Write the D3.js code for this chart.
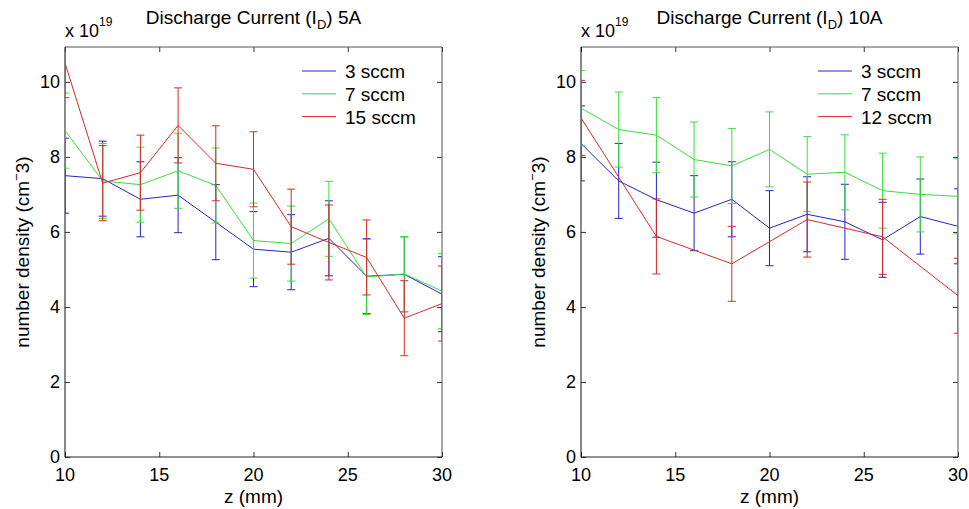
<!DOCTYPE html>
<html>
<head>
<meta charset="utf-8">
<script src="https://cdn.jsdelivr.net/npm/d3@7"></script>
<style>
  body { margin: 0; background: #fff; }
  svg { display: block; font-family: "Liberation Sans", Arial, sans-serif; }
</style>
</head>
<body>
<svg id="chart" width="969" height="509"></svg>
<script>
// z positions (mm)
const zValues = [10, 12, 14, 16, 18, 20, 22, 24, 26, 28, 30];
const zRed10 = [10, 14, 18, 22, 26, 30];
const xTicks = [10, 15, 20, 25, 30];
const yTicks = [0, 2, 4, 6, 8, 10];

// Discharge current 5A  (values x 10^19)
const blue5 = [7.5, 7.42, 6.87, 6.98, 6.26, 5.54, 5.46, 5.83, 4.82, 4.87, 4.34];
const green5 = [8.7, 7.36, 7.26, 7.63, 7.24, 5.77, 5.69, 6.35, 4.8, 4.88, 4.42];
const red5 = [10.5, 7.3, 7.58, 8.84, 7.83, 7.67, 6.14, 5.72, 5.32, 3.7, 4.09];
const errBlue5 = [1, 1, 1, 1, 1, 1, 1, 1, 1, 1, 1];
const errGreen5 = [1, 1, 1, 1, 1, 1, 1, 1, 1, 1, 1];
const errRed5 = [0.92, 1, 1, 1, 1, 1, 1, 1, 1, 1, 1];
const labels5 = ['3 sccm', '7 sccm', '15 sccm'];

// Discharge current 10A
const blue10 = [8.36, 7.36, 6.86, 6.5, 6.87, 6.1, 6.47, 6.27, 5.79, 6.41, 6.15];
const green10 = [9.3, 8.73, 8.58, 7.93, 7.76, 8.2, 7.54, 7.59, 7.1, 7.0, 6.95];
const red10 = [9.04, 5.88, 5.15, 6.33, 5.87, 4.3];
const errBlue10 = [1, 1, 1, 1, 1, 1, 1, 1, 1, 1, 1];
const errGreen10 = [1, 1, 1, 1, 1, 1, 1, 1, 1, 1, 1];
const errRed10 = [1, 1, 1, 1, 1, 1];
const labels10 = ['3 sccm', '7 sccm', '12 sccm'];

const colors = { blue: '#2424cc', green: '#38de38', red: '#d82828' };
const fontSize = 19;
const tickFont = 18;

const svg = d3.select('#chart');

function drawPanel(opts) {
  const { left, right, top, bottom, id, title, legend, series } = opts;

  const x = d3.scaleLinear().domain([10, 30]).range([left, right]);
  const y = d3.scaleLinear().domain([0, 10.93]).range([bottom, top]);

  svg.append('clipPath').attr('id', id)
    .append('rect')
    .attr('x', left).attr('y', top)
    .attr('width', right - left).attr('height', bottom - top);

  const g = svg.append('g');

  // inward ticks on all four sides
  const tickLen = 5;
  g.append('g')
    .attr('transform', `translate(0,${bottom})`)
    .call(d3.axisBottom(x).tickValues(xTicks).tickSize(-tickLen).tickFormat(''))
    .call(s => s.select('.domain').remove());
  g.append('g')
    .attr('transform', `translate(0,${top})`)
    .call(d3.axisTop(x).tickValues(xTicks).tickSize(-tickLen).tickFormat(''))
    .call(s => s.select('.domain').remove());
  g.append('g')
    .attr('transform', `translate(${left},0)`)
    .call(d3.axisLeft(y).tickValues(yTicks).tickSize(-tickLen).tickFormat(''))
    .call(s => s.select('.domain').remove());
  g.append('g')
    .attr('transform', `translate(${right},0)`)
    .call(d3.axisRight(y).tickValues(yTicks).tickSize(-tickLen).tickFormat(''))
    .call(s => s.select('.domain').remove());
  g.selectAll('.tick line').attr('stroke', '#333');

  // box
  g.append('line').attr('x1', left).attr('x2', right).attr('y1', top).attr('y2', top).attr('stroke', '#555');
  g.append('line').attr('x1', right).attr('x2', right).attr('y1', top).attr('y2', bottom).attr('stroke', '#555');
  g.append('line').attr('x1', left).attr('x2', right).attr('y1', bottom).attr('y2', bottom).attr('stroke', '#222');
  g.append('line').attr('x1', left).attr('x2', left).attr('y1', top).attr('y2', bottom).attr('stroke', '#111');

  // tick labels
  g.selectAll('.xlab')
    .data(xTicks)
    .enter()
    .append('text')
    .attr('x', d => x(d))
    .attr('y', bottom + 24)
    .attr('text-anchor', 'middle')
    .style('font-size', tickFont + 'px')
    .text(d => d);

  g.selectAll('.ylab')
    .data(yTicks)
    .enter()
    .append('text')
    .attr('x', left - 5)
    .attr('y', d => y(d) + 6)
    .attr('text-anchor', 'end')
    .style('font-size', tickFont + 'px')
    .text(d => d);

  // exponent label
  const ex = g.append('text')
    .attr('x', left)
    .attr('y', top - 10)
    .style('font-size', tickFont + 'px');
  ex.append('tspan').text('x 10');
  ex.append('tspan').attr('dy', -11).style('font-size', '12px').text('19');

  // title
  const t = g.append('text')
    .attr('x', (left + right) / 2)
    .attr('y', 24)
    .attr('text-anchor', 'middle')
    .style('font-size', '19px');
  t.append('tspan').text('Discharge Current (I');
  t.append('tspan').attr('dy', 5).style('font-size', '13px').text('D');
  t.append('tspan').attr('dy', -5).text(') ' + title);

  // axis labels
  g.append('text')
    .attr('x', (left + right) / 2)
    .attr('y', 503)
    .attr('text-anchor', 'middle')
    .style('font-size', fontSize + 'px')
    .text('z (mm)');

  const yl = g.append('text')
    .attr('transform', `translate(${left - 36},${(top + bottom) / 2}) rotate(-90)`)
    .attr('text-anchor', 'middle')
    .style('font-size', fontSize + 'px');
  yl.append('tspan').text('number density (cm');
  yl.append('tspan').attr('dy', -8).style('font-size', '13px').text('−');
  yl.append('tspan').attr('dy', 8).text('3)');

  // data
  const plot = g.append('g').attr('clip-path', `url(#${id})`);
  const cap = 4;

  series.forEach(s => {
    const c = colors[s.color];
    const pts = s.values.map((v, i) => ({ z: s.z[i], v: v, e: s.err[i] }));
    const line = d3.line().x(d => x(d.z)).y(d => y(d.v));

    plot.append('path')
      .datum(pts)
      .attr('fill', 'none')
      .attr('stroke', c)
      .attr('stroke-width', 1)
      .attr('d', line);

    const eb = plot.append('g').attr('stroke', c).attr('stroke-width', 1);
    eb.selectAll('.bar')
      .data(pts)
      .enter()
      .append('line')
      .attr('x1', d => x(d.z)).attr('x2', d => x(d.z))
      .attr('y1', d => y(d.v - d.e)).attr('y2', d => y(d.v + d.e));
    eb.selectAll('.capTop')
      .data(pts)
      .enter()
      .append('line')
      .attr('x1', d => x(d.z) - cap).attr('x2', d => x(d.z) + cap)
      .attr('y1', d => y(d.v + d.e)).attr('y2', d => y(d.v + d.e));
    eb.selectAll('.capBottom')
      .data(pts)
      .enter()
      .append('line')
      .attr('x1', d => x(d.z) - cap).attr('x2', d => x(d.z) + cap)
      .attr('y1', d => y(d.v - d.e)).attr('y2', d => y(d.v - d.e));
  });

  // legend
  const lg = g.append('g').attr('transform', `translate(${right - 140},71)`);
  series.forEach((s, i) => {
    const row = lg.append('g').attr('transform', `translate(0,${i * 22.8})`);
    row.append('line')
      .attr('x1', 0).attr('x2', 34)
      .attr('stroke', colors[s.color]).attr('stroke-width', 1);
    row.append('text')
      .attr('x', 43).attr('y', 7)
      .style('font-size', fontSize + 'px')
      .text(legend[i]);
  });
}

drawPanel({
  left: 65, right: 442, top: 47, bottom: 457, id: 'clip5', title: '5A', legend: labels5,
  series: [
    { color: 'blue', z: zValues, values: blue5, err: errBlue5 },
    { color: 'green', z: zValues, values: green5, err: errGreen5 },
    { color: 'red', z: zValues, values: red5, err: errRed5 }
  ]
});

drawPanel({
  left: 581, right: 958, top: 47, bottom: 457, id: 'clip10', title: '10A', legend: labels10,
  series: [
    { color: 'blue', z: zValues, values: blue10, err: errBlue10 },
    { color: 'green', z: zValues, values: green10, err: errGreen10 },
    { color: 'red', z: zRed10, values: red10, err: errRed10 }
  ]
});
</script>
</body>
</html>
